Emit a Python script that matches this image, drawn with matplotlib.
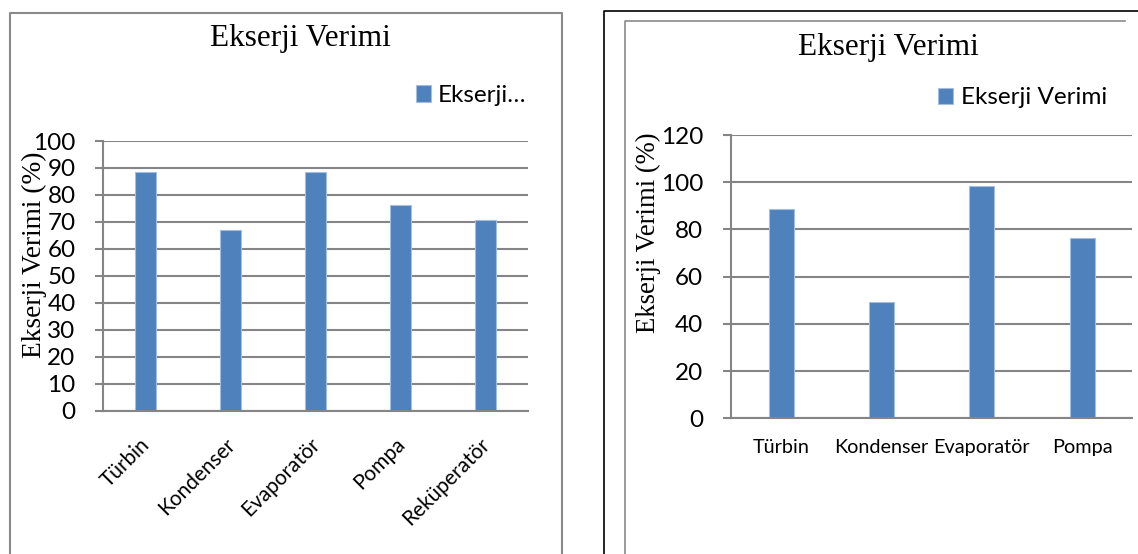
import matplotlib
matplotlib.use("Agg")
import matplotlib.pyplot as plt
import matplotlib.transforms as mtransforms
from matplotlib.lines import Line2D
import numpy as np

# Exergy efficiency per component (two cycle configurations)
left_components = ["Türbin", "Kondenser", "Evaporatör", "Pompa", "Reküperatör"]
left_efficiency = [88.5, 67.0, 88.4, 76.3, 70.7]

right_components = ["Türbin", "Kondenser", "Evaporatör", "Pompa"]
right_efficiency = [88.5, 49.2, 98.4, 76.3]

title = "Ekserji Verimi"
ylabel = "Ekserji Verimi (%)"

W, H = 1138, 554
DPI = 100
BAR = "#4F81BD"
BAR_EDGE = "#A3BEDF"
GRID = "#858585"
SERIF = "Liberation Serif"
SANS = "Lato"


def fx(px):
    return px / W


def fy(py):
    return 1 - py / H


def axes_rect(x0, x1, ytop, ybot):
    return [fx(x0), fy(ybot), fx(x1 - x0), (ybot - ytop) / H]


def style_axes(ax, ymax, step):
    ax.set_ylim(0, ymax)
    ax.set_yticks(np.arange(0, ymax + 1, step))
    ax.yaxis.grid(True, color=GRID, linewidth=1.5)
    ax.set_axisbelow(True)
    for side in ["top", "right"]:
        ax.spines[side].set_visible(False)
    for side in ["left", "bottom"]:
        ax.spines[side].set_color(GRID)
        ax.spines[side].set_linewidth(1.5)
    ax.tick_params(axis="y", length=6, width=1.5, color=GRID, pad=14,
                   labelsize=17.5, labelfontfamily=SANS)
    ax.tick_params(axis="x", length=0, labelfontfamily=SANS)


fig = plt.figure(figsize=(W / DPI, H / DPI), dpi=DPI)

# panel frames
fig.add_artist(Line2D([fx(9.5), fx(9.5), fx(562), fx(562)],
                      [fy(560), fy(12.5), fy(12.5), fy(560)],
                      color="#8a8a8a", linewidth=1.5))
fig.add_artist(Line2D([fx(604), fx(604), fx(1140)],
                      [fy(560), fy(10.5), fy(10.5)],
                      color="black", linewidth=1.2))
fig.add_artist(Line2D([fx(624.5), fx(624.5), fx(1125)],
                      [fy(560), fy(21), fy(21)],
                      color="#8a8a8a", linewidth=1.2))

# left chart
ax1 = fig.add_axes(axes_rect(103.3, 528.3, 141, 410.7))
x1 = np.arange(len(left_components))
ax1.bar(x1, left_efficiency, width=0.25, color=BAR, edgecolor=BAR_EDGE,
        linewidth=0.8, label="Ekserji…")
ax1.set_xlim(-0.5, len(left_components) - 0.5)
style_axes(ax1, 100, 10)
ax1.set_xticks(x1)
ax1.set_xticklabels(left_components, rotation=45, ha="right", va="center",
                    rotation_mode="anchor", fontsize=15)
ax1.tick_params(axis="x", pad=22)
shift = mtransforms.ScaledTranslation(1 / DPI, 0, fig.dpi_scale_trans)
for lbl in ax1.get_xticklabels():
    lbl.set_transform(lbl.get_transform() + shift)

fig.text(fx(300), fy(46), title, ha="center", va="baseline",
         fontsize=22.5, family=SERIF)
fig.text(fx(34), fy(255), ylabel, ha="center", va="center", rotation=90,
         fontsize=19.7, family=SERIF)
ax1.legend(loc="center left", bbox_to_anchor=(fx(415.7), fy(95.5)),
           bbox_transform=fig.transFigure, frameon=False, borderpad=0,
           borderaxespad=0, handlelength=0.65, handleheight=0.65,
           handletextpad=0.25, prop={"family": SANS, "size": 17.5})

# right chart
ax2 = fig.add_axes(axes_rect(731, 1132.2, 135, 418.3))
x2 = np.arange(len(right_components))
ax2.bar(x2, right_efficiency, width=0.25, color=BAR, edgecolor=BAR_EDGE,
        linewidth=0.8, label="Ekserji Verimi")
ax2.set_xlim(-0.5, len(right_components) - 0.5)
style_axes(ax2, 120, 20)
ax2.set_xticks(x2)
ax2.set_xticklabels(right_components, fontsize=14.3)
ax2.tick_params(axis="x", pad=15)

fig.text(fx(888.7), fy(55), title, ha="center", va="baseline",
         fontsize=22.5, family=SERIF)
fig.text(fx(648), fy(233), ylabel, ha="center", va="center", rotation=90,
         fontsize=19.2, family=SERIF)
ax2.legend(loc="center left", bbox_to_anchor=(fx(937.6), fy(97.7)),
           bbox_transform=fig.transFigure, frameon=False, borderpad=0,
           borderaxespad=0, handlelength=0.65, handleheight=0.65,
           handletextpad=0.3, prop={"family": SANS, "size": 17.5})

fig.savefig("out.png", dpi=DPI)
